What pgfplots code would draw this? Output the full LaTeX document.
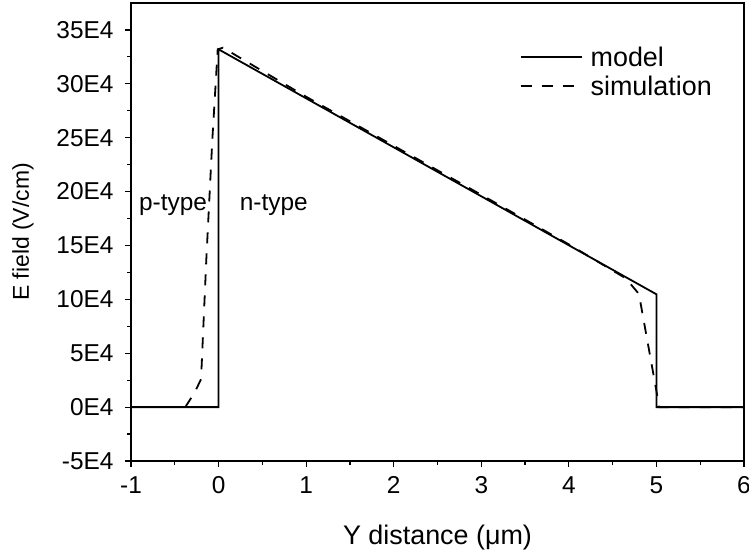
\documentclass[border=0pt]{standalone}
\usepackage{fontspec}
\setmainfont{Liberation Sans}
\usepackage{pgfplots}
\pgfplotsset{compat=1.18}

\begin{document}
\begin{tikzpicture}
\begin{axis}[
  scale only axis,
  width=613bp, height=458bp,
  xmin=-1, xmax=6,
  ymin=-50000, ymax=375000,
  axis line style={line width=1.2bp},
  tick style={line width=1.2bp, black},
  tick align=outside,
  tick pos=left,
  major tick length=6bp,
  minor tick length=3.5bp,
  xtick={-1,0,...,6},
  minor xtick={-0.5,0.5,...,5.5},
  ytick={-50000,0,50000,100000,150000,200000,250000,300000,350000},
  yticklabels={-5E4,0E4,5E4,10E4,15E4,20E4,25E4,30E4,35E4},
  minor ytick={-25000,25000,75000,125000,175000,225000,275000,325000},
  scaled y ticks=false,
  /pgf/number format/assume math mode=true,
  every tick label/.append style={font=\fontsize{24.5}{29}\selectfont},
  yticklabel style={xshift=-8bp},
  xticklabel style={yshift=-6bp},
  xlabel={Y distance (μm)},
  ylabel={E field (V/cm)},
  xlabel style={font=\fontsize{27}{32}\selectfont, yshift=-24bp},
  ylabel style={font=\fontsize{23}{27}\selectfont, yshift=16bp},
  legend style={at={(rel axis cs:0.634,0.909)}, anchor=north west,
    draw=none, fill=none, font=\fontsize{27}{32}\selectfont,
    row sep=4bp, inner sep=0bp},
  legend cell align=left,
  legend image code/.code={\draw[#1] (0bp,0bp) -- (61bp,0bp); \path (67bp,0bp);},
]
% analytic model
\addplot[black, line width=1.8bp] coordinates {
  (-1,0) (0,0) (0,332000) (5,104700) (5,0) (6,0)
};
\addlegendentry{model}
% device simulation
\addplot[black, line width=1.8bp, dash pattern=on 11bp off 10bp] coordinates {
  (-0.38,0) (-0.27,14000) (-0.2,26000) (-0.14,137000) (-0.07,250000)
  (-0.01,332000) (0.05,333500) (1,288000) (2,242500) (3,197000)
  (4,151000) (4.65,119500) (4.8,105000) (5.0,15000) (5.03,0) (6,0)
};
\addlegendentry{simulation}
\node[font=\fontsize{24.5}{29}\selectfont] at (axis cs:-0.52,187000) {p-type};
\node[font=\fontsize{24.5}{29}\selectfont] at (axis cs:0.63,187000) {n-type};
\end{axis}
\pgfresetboundingbox
\path (current axis.south west) ++(-131bp,-90bp) rectangle ([shift={(5bp,3bp)}]current axis.north east);
\end{tikzpicture}
\end{document}
